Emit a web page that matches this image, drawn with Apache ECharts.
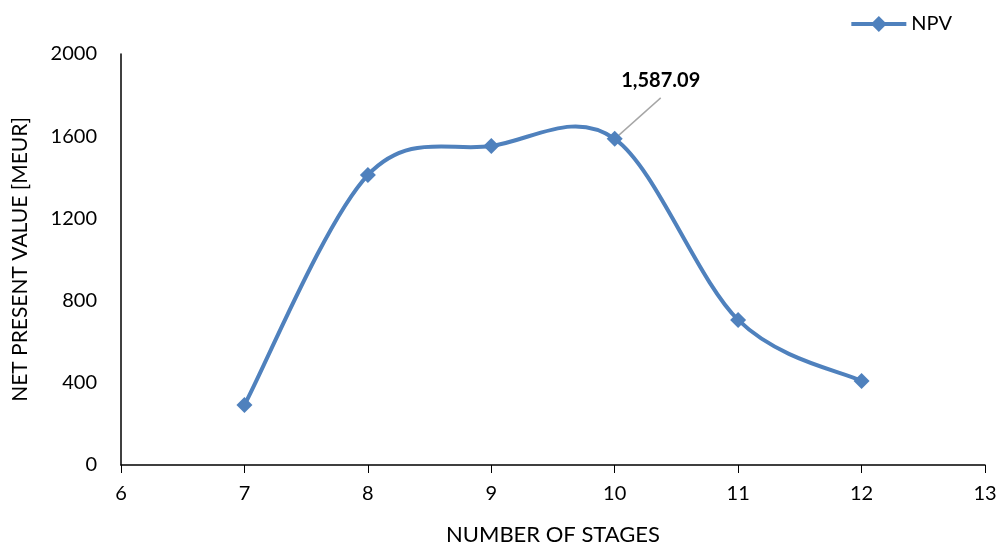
<!DOCTYPE html>
<html>
<head>
<meta charset="utf-8">
<script src="https://cdn.jsdelivr.net/npm/echarts@6/dist/echarts.min.js"></script>
<style>html,body{margin:0;padding:0;background:#fff}#c{width:998px;height:543px}</style>
</head>
<body>
<div id="c"></div>
<script>
const stages = [7, 8, 9, 10, 11, 12];
const npv = [292, 1411, 1552, 1587.09, 706, 409];
const xTicks = [6, 7, 8, 9, 10, 11, 12, 13];
const yTicks = [0, 400, 800, 1200, 1600, 2000];
const labelIndex = 3;

const font = 'Lato, "Open Sans", sans-serif';
const blue = '#4f81bd';
const chart = echarts.init(document.getElementById('c'));

const markerData = stages.map((s, i) => {
  const item = { value: [s, npv[i]] };
  if (i === labelIndex) {
    item.label = {
      show: true,
      formatter: p => p.value[1].toLocaleString('en-US', {minimumFractionDigits: 2, maximumFractionDigits: 2}),
      fontFamily: font, fontWeight: 'bold', fontSize: 20, color: '#000',
      position: 'top'
    };
  }
  return item;
});

// Smoothed curve (Excel-like Catmull-Rom Bezier) built in pixel space from the axis scales,
// plus the leader line of the data label.
function renderCurve(params, api) {
  const pts = stages.map((s, i) => api.coord([s, npv[i]]));
  const n = pts.length;
  let d = 'M' + pts[0][0] + ' ' + pts[0][1];
  for (let i = 0; i < n - 1; i++) {
    const p0 = pts[Math.max(i - 1, 0)], p1 = pts[i], p2 = pts[i + 1], p3 = pts[Math.min(i + 2, n - 1)];
    const c1 = [p1[0] + (p2[0] - p0[0]) / 6, p1[1] + (p2[1] - p0[1]) / 6];
    const c2 = [p2[0] - (p3[0] - p1[0]) / 6, p2[1] - (p3[1] - p1[1]) / 6];
    d += ' C' + c1[0] + ' ' + c1[1] + ' ' + c2[0] + ' ' + c2[1] + ' ' + p2[0] + ' ' + p2[1];
  }
  const lp = pts[labelIndex];
  return {
    type: 'group',
    children: [
      {
        type: 'path',
        shape: { pathData: d },
        style: { fill: null, stroke: blue, lineWidth: 4, lineCap: 'round', lineJoin: 'round' }
      },
      {
        type: 'line',
        z2: 10,
        shape: { x1: lp[0], y1: lp[1], x2: lp[0] + 46, y2: lp[1] - 41 },
        style: { stroke: '#a6a6a6', lineWidth: 1.4 }
      }
    ]
  };
}

chart.setOption({
  animation: false,
  grid: { left: 121, right: 13, top: 54, bottom: 78, outerBoundsMode: 'none', containLabel: false },
  legend: {
    right: 41, top: 9, itemWidth: 55, itemHeight: 20, itemGap: 10,
    textStyle: { fontFamily: font, fontSize: 20, color: '#000' },
    lineStyle: { color: blue, width: 4, opacity: 1 },
    data: ['NPV']
  },
  xAxis: {
    type: 'value', min: xTicks[0], max: xTicks[xTicks.length - 1], interval: 1,
    name: 'NUMBER OF STAGES', nameLocation: 'middle', nameGap: 59,
    nameTextStyle: { fontFamily: font, fontSize: 22, color: '#000' },
    axisLine: { show: true, lineStyle: { color: '#000', width: 1.5 } },
    axisTick: { show: true, length: 8, lineStyle: { color: '#000' } },
    axisLabel: { fontFamily: font, fontSize: 20, color: '#000', margin: 19 },
    splitLine: { show: false }
  },
  yAxis: {
    type: 'value', min: yTicks[0], max: yTicks[yTicks.length - 1], interval: 400,
    name: 'NET PRESENT VALUE [MEUR]', nameLocation: 'middle', nameGap: 90,
    nameTextStyle: { fontFamily: font, fontSize: 21, color: '#000' },
    axisLine: { show: true, lineStyle: { color: '#000', width: 1.5 } },
    axisTick: { show: false },
    axisLabel: { fontFamily: font, fontSize: 20, color: '#000', margin: 24, formatter: v => String(v) },
    splitLine: { show: false }
  },
  series: [
    {
      name: 'NPV curve', type: 'custom', z: 1,
      renderItem: renderCurve,
      data: [[stages[0], npv[0]]],
      silent: true
    },
    {
      name: 'NPV', type: 'line', z: 3,
      symbol: 'diamond', symbolSize: 16,
      itemStyle: { color: blue },
      lineStyle: { color: blue, width: 4, opacity: 0 },
      labelLayout: { dx: 46, dy: -35 },
      data: markerData
    }
  ]
});
</script>
</body>
</html>
